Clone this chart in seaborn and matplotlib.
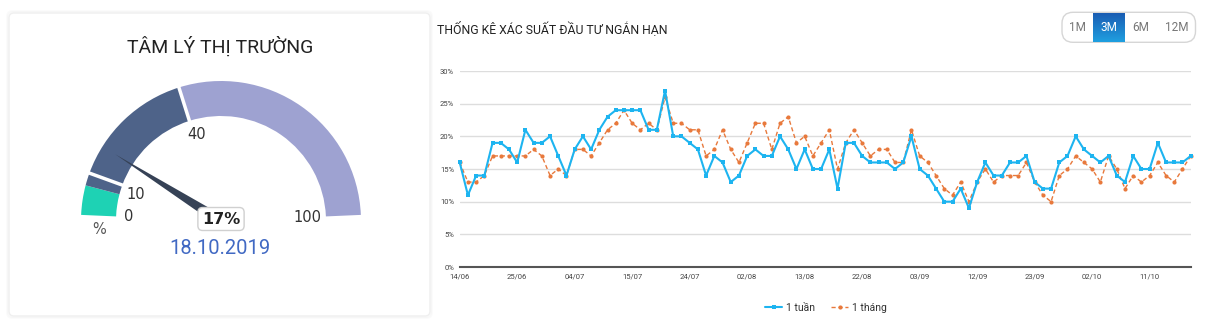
import numpy as np
import pandas as pd
import matplotlib
matplotlib.use("Agg")
import matplotlib.pyplot as plt
import seaborn as sns
from matplotlib.patches import Wedge, Polygon, FancyBboxPatch
from matplotlib.colors import LinearSegmentedColormap

# ---------------- data ----------------
series_names = ["1 tuần", "1 tháng"]
week_values = [16, 11, 14, 14, 19, 19, 18, 16, 21, 19, 19, 20, 17, 14, 18, 20, 18, 21, 23, 24,
               24, 24, 24, 21, 21, 27, 20, 20, 19, 18, 14, 17, 16, 13, 14, 17, 18, 17, 17, 20,
               18, 15, 18, 15, 15, 18, 12, 19, 19, 17, 16, 16, 16, 15, 16, 20, 15, 14, 12, 10,
               10, 12, 9, 13, 16, 14, 14, 16, 16, 17, 13, 12, 12, 16, 17, 20, 18, 17, 16, 17,
               14, 13, 17, 15, 15, 19, 16, 16, 16, 17]
month_values = [16, 13, 13, 14, 17, 17, 17, 17, 17, 18, 17, 14, 15, 14, 18, 18, 17, 19, 21, 22,
                24, 22, 21, 22, 21, 26, 22, 22, 21, 21, 17, 18, 21, 18, 16, 19, 22, 22, 18, 22,
                23, 19, 20, 17, 19, 21, 15, 19, 21, 19, 17, 18, 18, 16, 16, 21, 17, 16, 14, 12,
                11, 13, 10, 13, 15, 13, 14, 14, 14, 16, 13, 11, 10, 14, 15, 17, 16, 15, 13, 17,
                15, 12, 14, 13, 14, 16, 14, 13, 15, 17]
x_tick_labels = ["14/06", "25/06", "04/07", "15/07", "24/07", "02/08", "13/08",
                 "22/08", "03/09", "12/09", "23/09", "02/10", "11/10"]
y_ticks = [0, 5, 10, 15, 20, 25, 30]
period_buttons = ["1M", "3M", "6M", "12M"]
selected_button = "3M"

gauge_band_edges = [0, 7, 10, 40, 100]
gauge_tick_values = [0, 10, 40, 100]
gauge_value = 17
gauge_date = "18.10.2019"
gauge_title = "TÂM LÝ THỊ TRƯỜNG"
chart_title = "THỐNG KÊ XÁC SUẤT ĐẦU TƯ NGẮN HẠN"

# ---------------- style ----------------
sns.set_style("white")
plt.rcParams["font.family"] = ["Roboto", "DejaVu Sans"]
NARROW = ["Liberation Sans Narrow", "Roboto", "DejaVu Sans"]

W, H = 1220, 331
fig = plt.figure(figsize=(W / 100, H / 100), dpi=100)
fig.patch.set_facecolor("white")

def Y(y):
    return H - y

# overlay axes in pixel coords (y up)
ov = fig.add_axes([0, 0, 1, 1], zorder=0)
ov.set_xlim(0, W)
ov.set_ylim(0, H)
ov.axis("off")

# ---- gauge card ----
for i, a in enumerate([0.025, 0.02]):
    ov.add_patch(FancyBboxPatch((9 - i - 1, Y(316) - i - 1), 421 + 2 * i + 2, 303 + 2 * i + 2,
                                boxstyle="round,pad=0,rounding_size=5",
                                fc="none", ec="black", lw=1.2, alpha=a))
ov.add_patch(FancyBboxPatch((9, Y(316)), 421, 303, boxstyle="round,pad=0,rounding_size=5",
                            fc="white", ec="#efefef", lw=1))

ov.text(220, Y(47), gauge_title, ha="center", va="center", fontsize=14, color="#222222")

cx, cy = 221, Y(221)
r_out, r_in = 140, 105
def ang(v):
    return 177.5 - 1.75 * v

band_colors = ["#1ed2b4", "#4e6389", "#4e6389", "#9ea2d1"]
for (v0, v1), col in zip(zip(gauge_band_edges[:-1], gauge_band_edges[1:]), band_colors):
    ov.add_patch(Wedge((cx, cy), r_out, ang(v1), ang(v0), width=r_out - r_in,
                       fc=col, ec="none"))
for v in [10, 40]:
    t = np.deg2rad(ang(v))
    ov.plot([cx + (r_in - 2) * np.cos(t), cx + (r_out + 2) * np.cos(t)],
            [cy + (r_in - 2) * np.sin(t), cy + (r_out + 2) * np.sin(t)],
            color="white", lw=2.5, solid_capstyle="butt")

# tick labels
for v in gauge_tick_values:
    t = np.deg2rad(ang(v))
    r = 92
    dx = {0: 0, 10: 1, 40: 3, 100: -5}[v]
    dy = {0: 0, 10: -5, 40: -1, 100: -1}[v]
    ov.text(cx + r * np.cos(t) + dx, cy + r * np.sin(t) + dy,
            str(v), ha="center", va="center", fontsize=10.5,
            family=["DejaVu Sans"], color="#333333")
ov.text(99, Y(229), "%", ha="center", va="center", fontsize=10.5, family=["DejaVu Sans"], color="#555555")

# needle
t = np.deg2rad(ang(gauge_value))
L = 125
tip = (cx + L * np.cos(t), cy + L * np.sin(t))
px, py = -np.sin(t), np.cos(t)
hw = 5.5
needle = Polygon([tip, (cx + hw * px, cy + hw * py), (cx - 6 * np.cos(t), cy - 6 * np.sin(t)),
                  (cx - hw * px, cy - hw * py)], closed=True, fc="#364256", ec="none")
ov.add_patch(needle)

ov.text(221, Y(219), f"{gauge_value}%", ha="center", va="center", fontsize=11.5,
        fontweight="bold", family=["DejaVu Sans"], color="#222222",
        bbox=dict(boxstyle="round,pad=0.25,rounding_size=0.3", fc="white", ec="#d0d0d0", lw=1))
ov.text(220, Y(248), gauge_date, ha="center", va="center", fontsize=14.5, color="#4169c3")

# ---- right chart title + buttons ----
ov.text(437, Y(29), chart_title, ha="left", va="center", fontsize=8.8, family=NARROW, color="#222222")

bx0, bx1, by0, by1 = 1062, 1195.5, 12.3, 42.3
ov.add_patch(FancyBboxPatch((bx0, Y(by1)), bx1 - bx0, by1 - by0,
                            boxstyle="round,pad=0,rounding_size=11", fc="white", ec="#d6d6d6", lw=1))
seg_edges = [1062, 1093.3, 1125.3, 1157, 1195.5]
grad = np.linspace(0, 1, 50).reshape(-1, 1)
cmap = LinearSegmentedColormap.from_list("btn", ["#1a5db3", "#1f9fe0"])
for i, lab in enumerate(period_buttons):
    x0, x1 = seg_edges[i], seg_edges[i + 1]
    sel = lab == selected_button
    if sel:
        ov.imshow(grad, extent=[x0, x1, Y(by1) + 0.5, Y(by0) - 0.5], origin="upper",
                  cmap=cmap, aspect="auto", zorder=3)
    ov.text((x0 + x1) / 2, Y(27.3), lab, ha="center", va="center", fontsize=8.5,
            family=NARROW, color="white" if sel else "#777777", zorder=4)
ov.set_xlim(0, W)
ov.set_ylim(0, H)

# ---- line chart ----
ax_left, ax_right = 459.7, 1190.7
ax_top, ax_bot = 71, 267
ax = fig.add_axes([ax_left / W, Y(ax_bot) / H, (ax_right - ax_left) / W, (ax_bot - ax_top) / H], zorder=2)
ax.set_facecolor("none")

x = np.arange(len(week_values))
df = pd.DataFrame({"idx": np.concatenate([x, x]),
                   "value": week_values + month_values,
                   "series": [series_names[0]] * len(x) + [series_names[1]] * len(x)})
blue, orange = "#1db4f0", "#e8793c"
sns.lineplot(data=df[df.series == series_names[0]], x="idx", y="value", color=blue, lw=1.5,
             marker="s", markersize=2.8, markeredgewidth=0, label=series_names[0], ax=ax,
             clip_on=False, zorder=3)
sns.lineplot(data=df[df.series == series_names[1]], x="idx", y="value", color=orange, lw=1.0,
             linestyle=(0, (3, 2)), marker="o", markersize=3.0, markeredgewidth=0,
             label=series_names[1], ax=ax, clip_on=False, zorder=2)

ax.set_xlim(0, len(x) - 1)
ax.set_ylim(0, 30)
ax.set_xlabel("")
ax.set_ylabel("")
ax.set_yticks(y_ticks)
ax.set_yticklabels([f"{v}%" for v in y_ticks])
ax.set_xticks(np.arange(0, 7 * len(x_tick_labels), 7))
ax.set_xticklabels(x_tick_labels)
ax.tick_params(axis="both", length=0, labelsize=5.5, colors="#444444")
ax.tick_params(axis="y", pad=4)
ax.tick_params(axis="x", pad=5)
for lab in ax.get_xticklabels() + ax.get_yticklabels():
    lab.set_family(NARROW)
ax.yaxis.grid(True, color="#dddddd", lw=1)
ax.xaxis.grid(False)
for s in ["top", "right", "left"]:
    ax.spines[s].set_visible(False)
ax.spines["bottom"].set_color("#555555")
ax.spines["bottom"].set_linewidth(1.5)
ax.spines["bottom"].set_zorder(4)

leg = ax.legend(loc="center", bbox_to_anchor=(826 / W, Y(308) / H), bbox_transform=fig.transFigure,
                ncol=2, frameon=False, fontsize=7.5, handlelength=1.6, columnspacing=1.6,
                handletextpad=0.35)
for tx in leg.get_texts():
    tx.set_family(NARROW)
    tx.set_color("#333333")

fig.savefig("out.png", dpi=100, facecolor="white")
